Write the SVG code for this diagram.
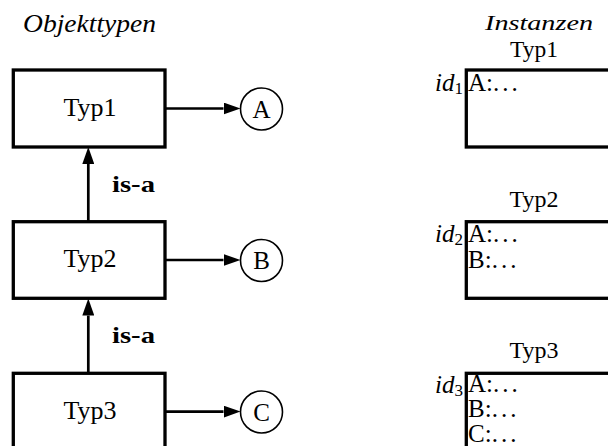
<svg xmlns="http://www.w3.org/2000/svg" width="608" height="446" viewBox="0 0 608 446">
<defs>
<marker id="ah" markerUnits="userSpaceOnUse" markerWidth="18" markerHeight="12" refX="0" refY="6" orient="auto">
<path d="M0,0 L17,6 L0,12 z" fill="#000"/>
</marker>
<style>
.box{fill:#fff;stroke:#000;stroke-width:3.3}
.circ{fill:#fff;stroke:#000;stroke-width:1.6}
.con{fill:none;stroke:#000;stroke-width:2.7;marker-end:url(#ah)}
.t{font-family:"Liberation Serif",serif;fill:#000}
.lbl{font-size:26px;text-anchor:middle}
.cl{font-size:25px;text-anchor:middle}
.it{font-style:italic}
.b{font-weight:bold;font-size:23px}
.f{font-size:25px}
.sub{font-size:17px;font-style:normal}
</style>
</defs>
<g id="titles">
<text class="t it" x="23" y="32" font-size="25" textLength="133" lengthAdjust="spacingAndGlyphs">Objekttypen</text>
<text class="t it" x="485" y="30" font-size="22" textLength="108" lengthAdjust="spacingAndGlyphs">Instanzen</text>
</g>
<g id="connectors">
<line class="con" x1="88.3" y1="221.7" x2="88.3" y2="164"/>
<line class="con" x1="88.3" y1="373.3" x2="88.3" y2="315.6"/>
<line class="con" x1="165" y1="108.5" x2="223.5" y2="108.5"/>
<line class="con" x1="165" y1="260" x2="223.5" y2="260"/>
<line class="con" x1="165" y1="411.6" x2="223.5" y2="411.6"/>
<text class="t b" x="112" y="191.7" textLength="43" lengthAdjust="spacingAndGlyphs">is-a</text>
<text class="t b" x="112" y="343.3" textLength="43" lengthAdjust="spacingAndGlyphs">is-a</text>
</g>
<g id="typ1">
<rect class="box" x="13.3" y="70" width="151.7" height="77"/>
<text class="t lbl" x="90" y="115.5">Typ1</text>
</g>
<g id="typ2">
<rect class="box" x="13.3" y="221.7" width="151.7" height="76.6"/>
<text class="t lbl" x="90" y="267">Typ2</text>
</g>
<g id="typ3">
<rect class="box" x="13.3" y="373.3" width="151.7" height="90"/>
<text class="t lbl" x="90" y="418.5">Typ3</text>
</g>
<g id="attrA">
<circle class="circ" cx="261.5" cy="109" r="21"/>
<text class="t cl" x="261.5" y="117.5">A</text>
</g>
<g id="attrB">
<circle class="circ" cx="261.5" cy="260.5" r="21"/>
<text class="t cl" x="261.5" y="269">B</text>
</g>
<g id="attrC">
<circle class="circ" cx="261.5" cy="412" r="21"/>
<text class="t cl" x="261.5" y="420.5">C</text>
</g>
<g id="inst1">
<text class="t" x="534" y="56.5" font-size="23.5" text-anchor="middle">Typ1</text>
<rect class="box" x="466.3" y="70" width="160" height="77"/>
<text class="t it" x="463" y="90.5" font-size="25" text-anchor="end">id<tspan class="sub" dy="3">1</tspan></text>
<text class="t f" x="468" y="90.5">A:<tspan letter-spacing="3">...</tspan></text>
</g>
<g id="inst2">
<text class="t" x="534" y="206.5" font-size="24" text-anchor="middle">Typ2</text>
<rect class="box" x="466.3" y="221.7" width="160" height="76.6"/>
<text class="t it" x="463" y="242" font-size="25" text-anchor="end">id<tspan class="sub" dy="3">2</tspan></text>
<text class="t f" x="468" y="242">A:<tspan letter-spacing="3">...</tspan></text>
<text class="t f" x="468" y="267.5">B:<tspan letter-spacing="3">...</tspan></text>
</g>
<g id="inst3">
<text class="t" x="534" y="358.3" font-size="24" text-anchor="middle">Typ3</text>
<rect class="box" x="466.3" y="373.3" width="160" height="90"/>
<text class="t it" x="463" y="393" font-size="25" text-anchor="end">id<tspan class="sub" dy="3">3</tspan></text>
<text class="t f" x="468" y="392">A:<tspan letter-spacing="3">...</tspan></text>
<text class="t f" x="468" y="417.3">B:<tspan letter-spacing="3">...</tspan></text>
<text class="t f" x="468" y="441.7">C:<tspan letter-spacing="3">...</tspan></text>
</g>
</svg>
